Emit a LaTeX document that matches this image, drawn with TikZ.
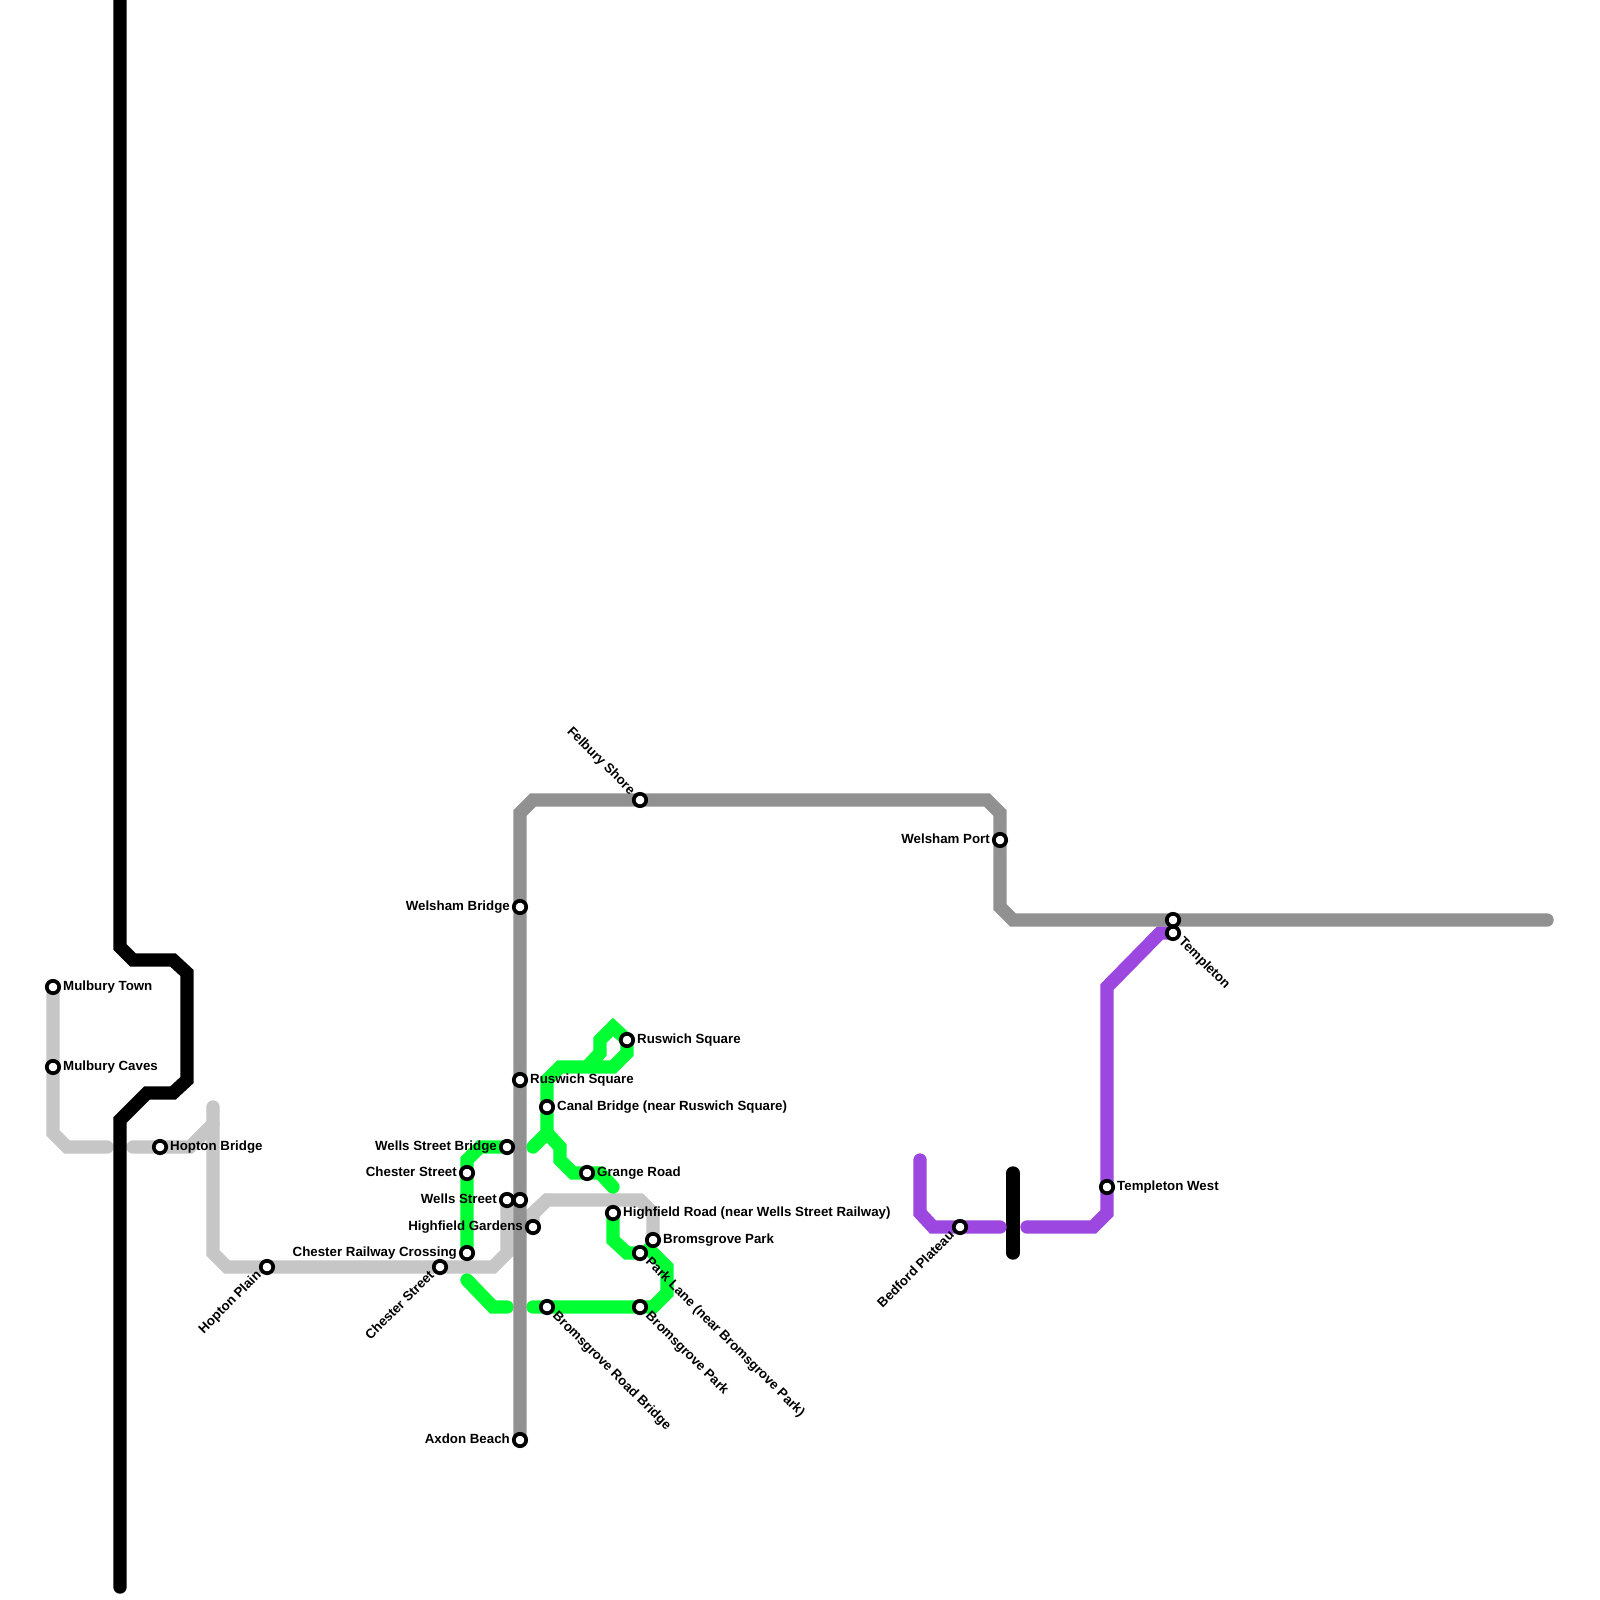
\documentclass[tikz,border=0pt]{standalone}
\usepackage{fontspec}
\setmainfont{Liberation Sans}
\begin{document}
\begin{tikzpicture}[x=1pt,y=-1pt,
  lineb/.style={line width=13.4pt,line cap=round,line join=miter},
  lgray/.style={lineb,draw=lgraycol},
  dgray/.style={lineb,draw=dgraycol},
  green/.style={lineb,draw=greencol},
  purple/.style={lineb,draw=purplecol},
  black/.style={lineb,draw=black},
  stn/.style={circle,draw=black,fill=white,line width=3.7pt,minimum size=12.4pt,inner sep=0pt,outer sep=0pt},
  lab/.style={font=\bfseries\fontsize{13.3pt}{13.3pt}\selectfont,inner sep=0pt,text=black,text height=9.5pt,text depth=2.5pt},
  lr/.style={lab,anchor=west},
  ll/.style={lab,anchor=east},
  ldr/.style={lab,anchor=west,rotate=-45},
  ldl/.style={lab,anchor=east,rotate=45},
  lul/.style={lab,anchor=east,rotate=-45}]
\definecolor{lgraycol}{HTML}{C6C6C6}
\definecolor{dgraycol}{HTML}{919191}
\definecolor{greencol}{HTML}{00FF33}
\definecolor{purplecol}{HTML}{9C48E0}
\useasboundingbox (0,0) rectangle (1600,1600);
\fill[white] (0,0) rectangle (1600,1600);
% stations as coordinates
\coordinate (mt) at (53,987);
\coordinate (mc) at (53,1067);
\coordinate (hb) at (160,1147);
\coordinate (hp) at (267,1267);
\coordinate (cs1) at (440,1267);
\coordinate (crc) at (467,1253);
\coordinate (cs2) at (467,1173);
\coordinate (wsb) at (507,1147);
\coordinate (ws1) at (507,1200);
\coordinate (ws2) at (520,1200);
\coordinate (rs1) at (520,1080);
\coordinate (wb) at (520,907);
\coordinate (ab) at (520,1440);
\coordinate (hg) at (533,1227);
\coordinate (cb) at (547,1107);
\coordinate (brb) at (547,1307);
\coordinate (gr) at (587,1173);
\coordinate (hr) at (613,1213);
\coordinate (rs2) at (627,1040);
\coordinate (pl) at (640,1253);
\coordinate (bp2) at (640,1307);
\coordinate (bp1) at (653,1240);
\coordinate (fs) at (640,800);
\coordinate (wp) at (1000,840);
\coordinate (bpl) at (960,1227);
\coordinate (tw) at (1107,1187);
\coordinate (t1) at (1173,920);
\coordinate (t2) at (1173,933);
% free ends
\coordinate (blacktop) at (120,0);
\coordinate (blackbot) at (120,1587);
\coordinate (dgend) at (1547,920);
% light grey
\draw[lgray] (mt) -- (mc) -- (53,1133) -- (67,1147) -- (107,1147);
\draw[lgray] (133,1147) -- (hb) -- (190,1147) -- (213,1124);
\draw[lgray] (213,1107) -- (213,1253) -- (227,1267) -- (hp) -- (cs1) -- (493,1267) -- (507,1253) -- (ws1);
\draw[lgray] (hg) -- (533,1213) -- (547,1200) -- (640,1200) -- (653,1213) -- (bp1);
\draw[lgray] (547,1200) -- (520,1227);
% green
\draw[green] (crc) -- (cs2) -- (467,1160) -- (480,1147) -- (wsb);
\draw[green] (467,1280) -- (493,1307) -- (507,1307);
\draw[green] (533,1307) -- (brb) -- (bp2) -- (653,1307) -- (667,1293) -- (667,1267) -- (649,1249);
\draw[green] (pl) -- (627,1253) -- (613,1240) -- (hr);
\draw[green] (533,1147) -- (547,1133) -- (cb) -- (547,1080) -- (560,1067) -- (613,1067) -- (627,1053) -- (rs2) -- (613,1027) -- (600,1040) -- (600,1053) -- (587,1067);
\draw[green] (547,1133) -- (560,1147) -- (560,1160) -- (573,1173) -- (gr) -- (600,1173) -- (613,1187);
% black
\draw[black] (blacktop) -- (120,947) -- (133,960) -- (173,960) -- (187,973) -- (187,1080) -- (173,1093) -- (147,1093) -- (120,1120) -- (blackbot);
\draw[black] (1013,1173) -- (1013,1253);
% purple
\draw[purple] (920,1160) -- (920,1213) -- (933,1227) -- (bpl) -- (1000,1227);
\draw[purple] (1027,1227) -- (1093,1227) -- (1107,1213) -- (tw) -- (1107,987) -- (1160,933) -- (t2);
% dark grey
\draw[dgray] (ab) -- (rs1) -- (wb) -- (520,813) -- (533,800) -- (fs) -- (987,800) -- (1000,813) -- (wp) -- (1000,907) -- (1013,920) -- (t1) -- (dgend);
% stations
\foreach \p/\n in {mt/nmt,mc/nmc,hb/nhb,hp/nhp,cs1/ncsa,crc/ncrc,cs2/ncsb,wsb/nwsb,ws1/nwsa,ws2/nwsc,rs1/nrsa,wb/nwb,ab/nab,hg/nhg,cb/ncb,brb/nbrb,gr/ngr,hr/nhr,rs2/nrsb,pl/npl,bp2/nbpb,bp1/nbpa,fs/nfs,wp/nwp,bpl/nbpl,tw/ntw,t1/nta,t2/ntb}
  \node[stn] (\n) at (\p) {};
% labels
\node[lr] (lmt) at ([xshift=10pt]mt) {Mulbury Town};
\node[lr] (lmc) at ([xshift=10pt]mc) {Mulbury Caves};
\node[lr] (lhb) at ([xshift=10pt]hb) {Hopton Bridge};
\node[ldl] (lhp) at ([shift={(-7.5,6.5)}]hp) {Hopton Plain};
\node[ldl] (lcs) at ([shift={(-7.5,6.5)}]cs1) {Chester Street};
\node[ll] (lcrc) at ([xshift=-10pt]crc) {Chester Railway Crossing};
\node[ll] (lcsb) at ([xshift=-10pt]cs2) {Chester Street};
\node[ll] (lwsb) at ([xshift=-10pt]wsb) {Wells Street Bridge};
\node[ll] (lws) at ([xshift=-10pt]ws1) {Wells Street};
\node[lr] (lrsa) at ([xshift=10pt]rs1) {Ruswich Square};
\node[ll] (lwb) at ([xshift=-10pt]wb) {Welsham Bridge};
\node[ll] (lab) at ([xshift=-10pt]ab) {Axdon Beach};
\node[ll] (lhg) at ([xshift=-10pt]hg) {Highfield Gardens};
\node[lr] (lcb) at ([xshift=10pt]cb) {Canal Bridge (near Ruswich Square)};
\node[ldr] (lbrb) at ([shift={(7.5,7)}]brb) {Bromsgrove Road Bridge};
\node[lr] (lgr) at ([xshift=10pt]gr) {Grange Road};
\node[lr] (lhr) at ([xshift=10pt]hr) {Highfield Road (near Wells Street Railway)};
\node[lr] (lrsb) at ([xshift=10pt]rs2) {Ruswich Square};
\node[ldr] (lpl) at ([shift={(7.5,7)}]pl) {Park Lane (near Bromsgrove Park)};
\node[ldr] (lbpb) at ([shift={(7.5,7)}]bp2) {Bromsgrove Park};
\node[lr] (lbpa) at ([xshift=10pt]bp1) {Bromsgrove Park};
\node[lul] (lfs) at ([shift={(-7.5,-7)}]fs) {Felbury Shore};
\node[ll] (lwp) at ([xshift=-10pt]wp) {Welsham Port};
\node[ldl] (lbpl) at ([shift={(-7.5,6.5)}]bpl) {Bedford Plateau};
\node[lr] (ltw) at ([xshift=10pt]tw) {Templeton West};
\node[ldr] (lt) at ([shift={(7.5,7)}]t2) {Templeton};
\end{tikzpicture}
\end{document}
